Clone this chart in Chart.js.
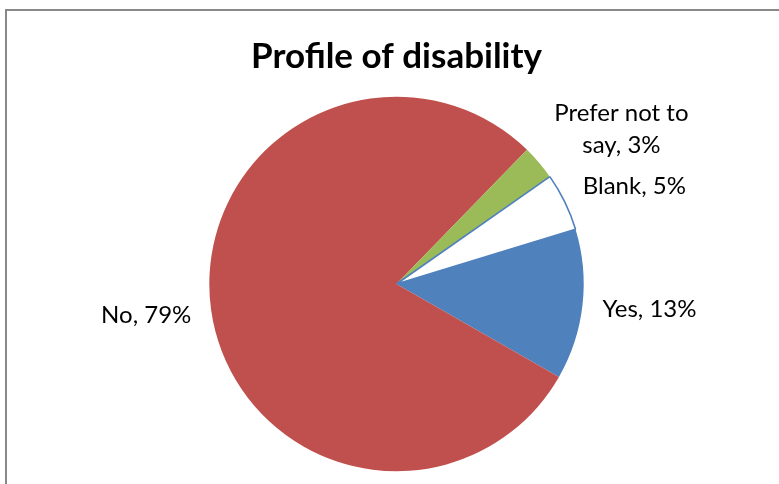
<!DOCTYPE html>
<html>
<head>
<meta charset="utf-8">
<script src="https://cdn.jsdelivr.net/npm/chart.js@4.4.1/dist/chart.umd.min.js"></script>
<style>
  html, body { margin: 0; padding: 0; background: #ffffff; overflow: hidden; }
  #frame { position: absolute; left: 5px; top: 9px; width: 900px; height: 600px; border: 2px solid #898989; box-sizing: border-box; }
  #wrap { position: absolute; left: 0; top: 0; width: 779px; height: 484px; }
</style>
</head>
<body>
<div id="frame"></div>
<div id="wrap"><canvas id="c"></canvas></div>
<script>
const titleText = 'Profile of disability';
const categories = ['Yes', 'No', 'Prefer not to say', 'Blank'];
const percentages = [13, 79, 3, 5];
const labelLines = [['Yes, 13%'], ['No, 79%'], ['Prefer not to', 'say, 3%'], ['Blank, 5%']];
const sliceColors = ['#4F81BD', '#C0504D', '#9BBB59', '#FFFFFF'];
const sliceBorders = ['#4F81BD', '#C0504D', '#9BBB59', '#4F81BD'];
const sliceBorderWidths = [0, 0, 0, 1.6];

const FONT = 'Lato, "Liberation Sans", sans-serif';

const labelPlugin = {
  id: 'outsideLabels',
  afterDatasetsDraw(chart) {
    const ctx = chart.ctx;
    const meta = chart.getDatasetMeta(0);
    ctx.save();
    ctx.font = '24px ' + FONT;
    ctx.fillStyle = '#000000';
    ctx.textBaseline = 'middle';
    const lineH = 32;
    meta.data.forEach((arc, i) => {
      const p = arc.getProps(['x', 'y', 'startAngle', 'endAngle', 'outerRadius'], true);
      const mid = (p.startAngle + p.endAngle) / 2;
      const c = Math.cos(mid), s = Math.sin(mid);
      const R = p.outerRadius + 20;
      const ax = p.x + R * c, ay = p.y + R * s;
      const lines = labelLines[i];
      const w = Math.max(...lines.map(l => ctx.measureText(l).width));
      const h = lines.length * lineH;
      const cx = ax + (c >= 0 ? w / 2 : -w / 2);
      const cy = ay + (h / 2) * s;
      ctx.textAlign = 'center';
      lines.forEach((l, k) => {
        const ly = cy - h / 2 + lineH * (k + 0.5);
        ctx.fillText(l, cx, ly);
      });
    });
    ctx.restore();
  }
};

new Chart(document.getElementById('c'), {
  type: 'pie',
  data: {
    labels: categories,
    datasets: [{
      data: percentages,
      backgroundColor: sliceColors,
      borderColor: sliceBorders,
      borderWidth: sliceBorderWidths,
      hoverOffset: 0
    }]
  },
  options: {
    responsive: true,
    maintainAspectRatio: false,
    animation: false,
    rotation: 73,
    layout: { padding: { left: 14, right: 0, top: 0, bottom: 12 } },
    plugins: {
      legend: { display: false },
      tooltip: { enabled: false },
      title: {
        display: true,
        text: titleText,
        color: '#000000',
        font: { family: FONT, size: 35, weight: 'bold', lineHeight: 1.2 },
        padding: { top: 36, bottom: 18 }
      }
    }
  },
  plugins: [labelPlugin]
});
</script>
</body>
</html>
